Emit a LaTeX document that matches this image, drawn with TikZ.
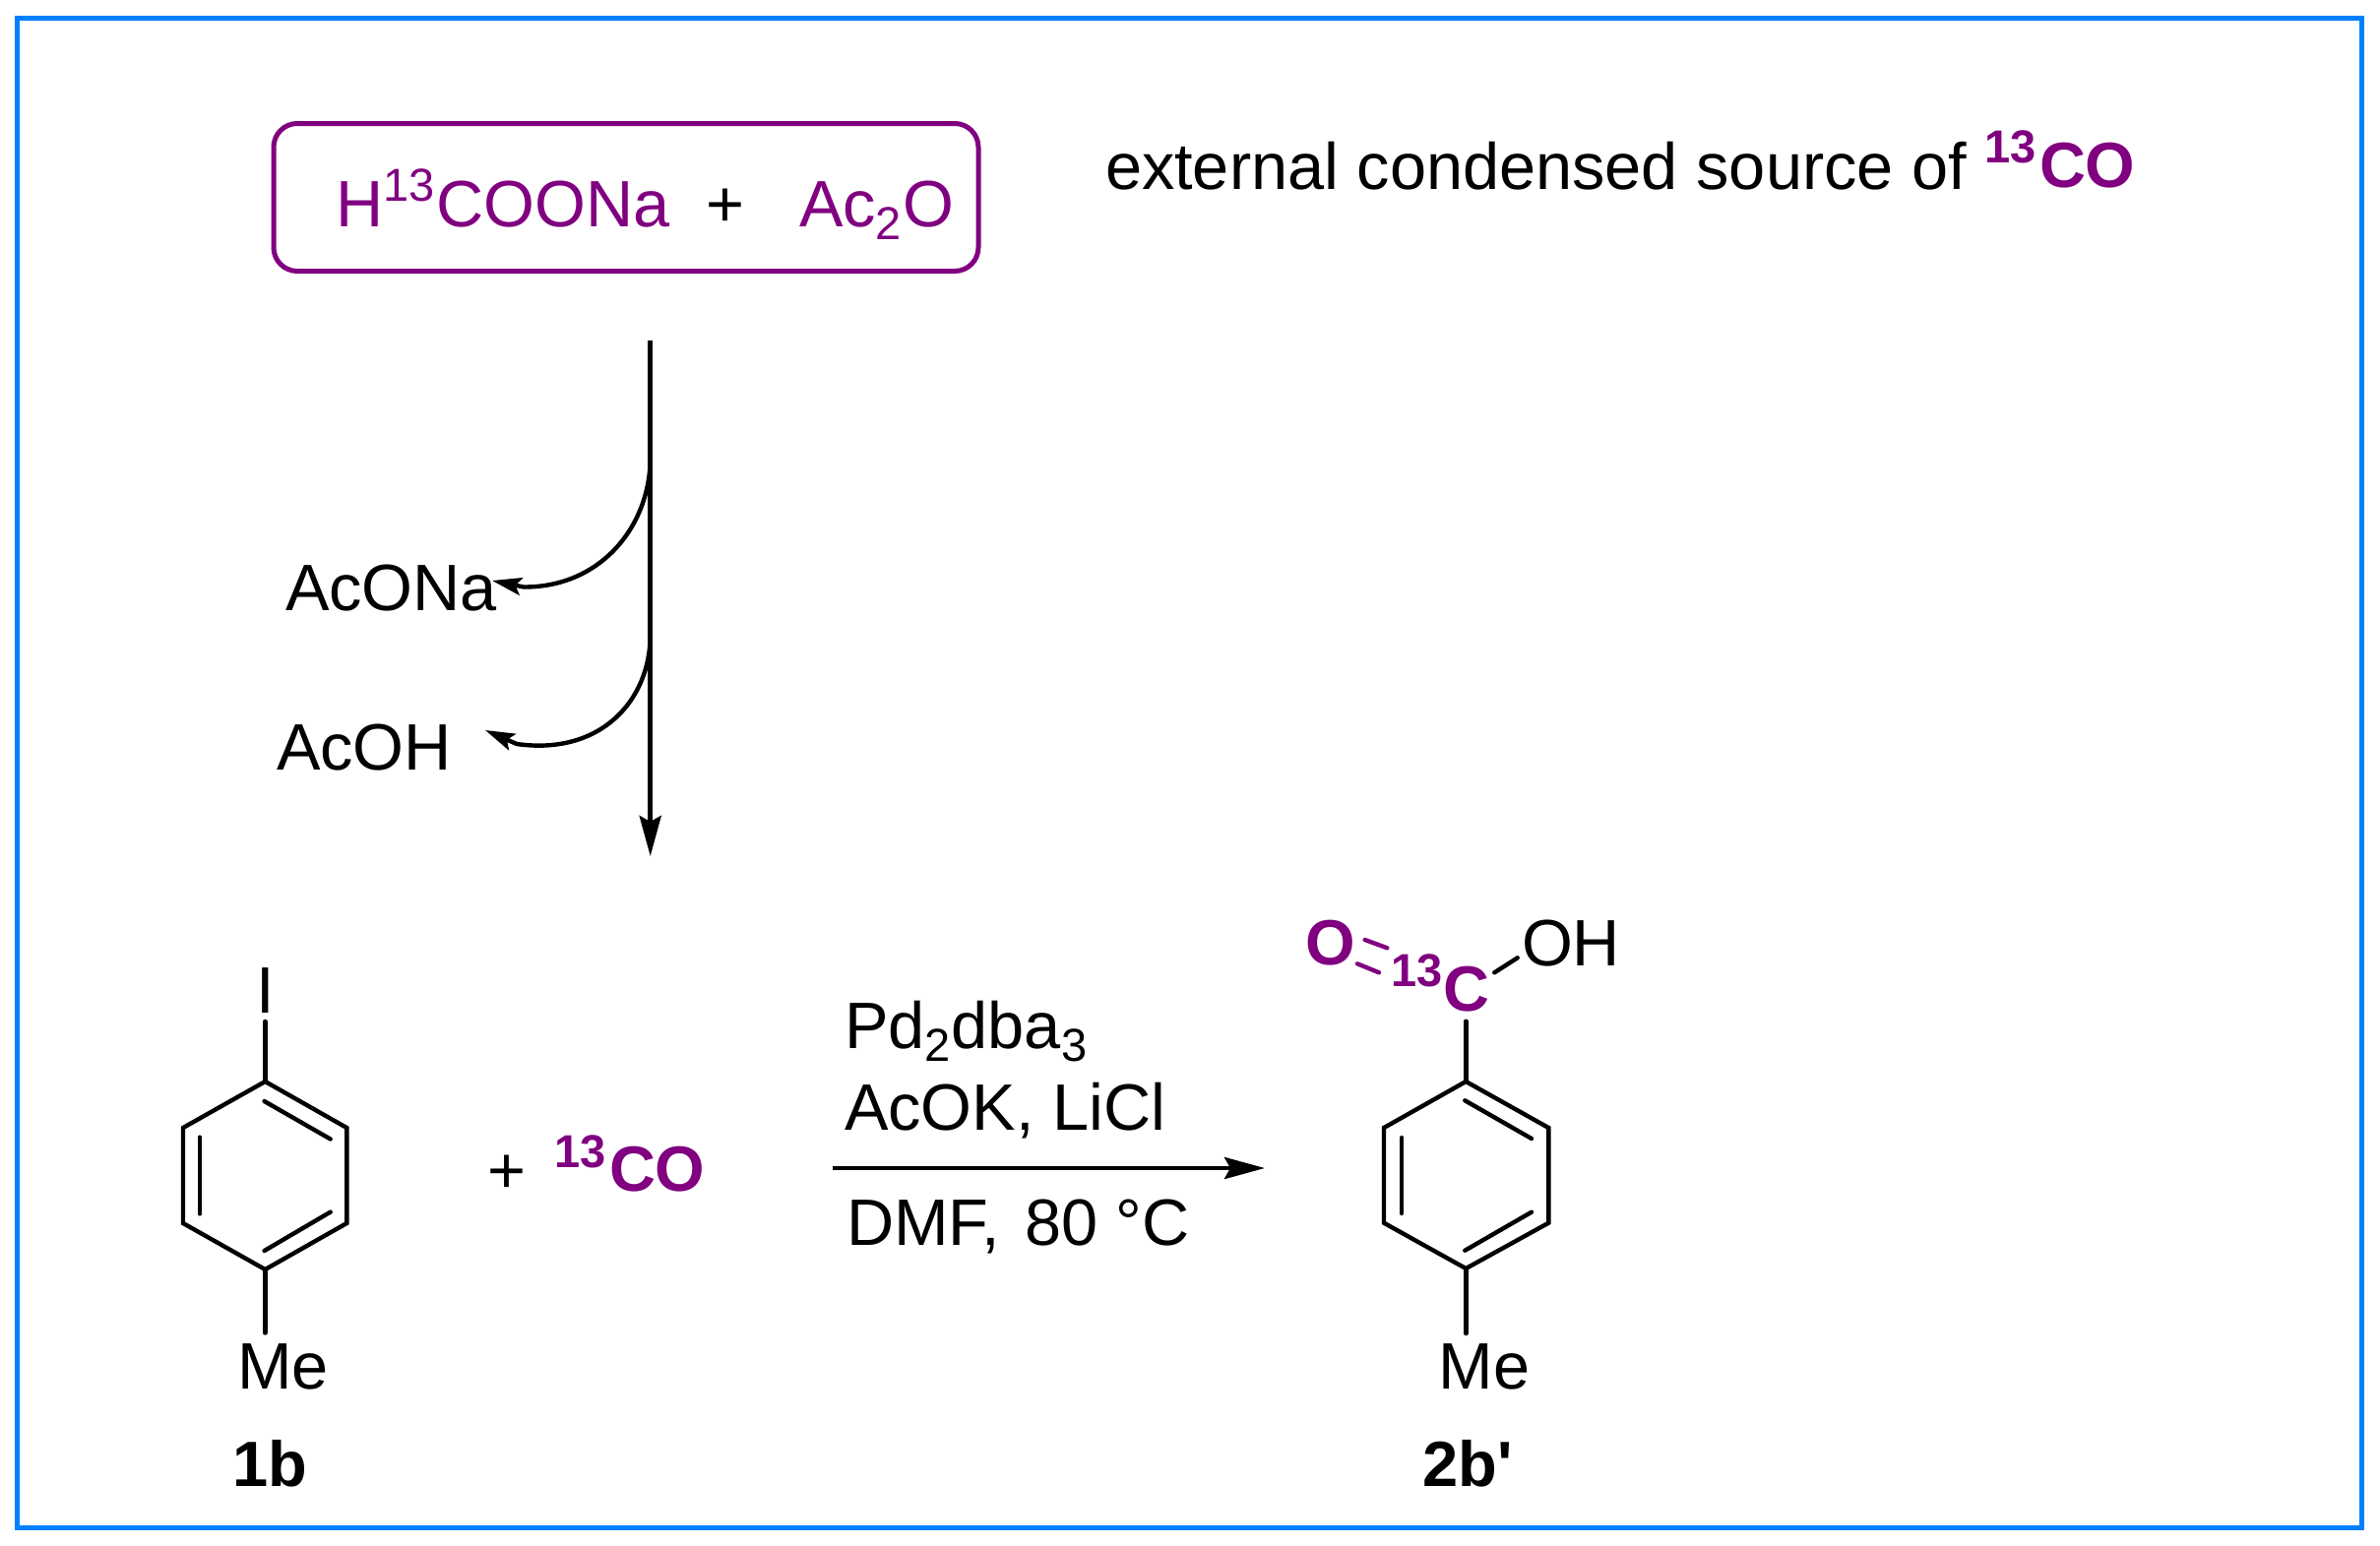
\documentclass[tikz,border=0pt]{standalone}
\usepackage{fontspec}
\setmainfont{Liberation Sans}
\usetikzlibrary{arrows.meta}
\definecolor{pur}{HTML}{800080}
\definecolor{frameblue}{HTML}{0080FF}
\newcommand{\bigsz}{\fontsize{66.7}{66.7}\selectfont}
\newcommand{\boldsz}{\fontsize{65}{65}\selectfont}
\newcommand{\smlsz}{\fontsize{47}{47}\selectfont}
\newcommand{\supn}[1]{\raisebox{26pt}{\smlsz #1}}
\newcommand{\subn}[1]{\raisebox{-13pt}{\smlsz #1}}
\tikzset{
  txt/.style={inner sep=0pt,outer sep=0pt,anchor=base west,font=\bigsz},
  btxt/.style={txt,font=\boldsz\bfseries},
  ptxt/.style={txt,text=pur},
  pbtxt/.style={btxt,text=pur},
  smallb/.style={inner sep=0pt,outer sep=0pt,anchor=base west,font=\smlsz\bfseries,text=pur},
  bond/.style={line width=4.4pt,line cap=round,line join=miter},
  pbond/.style={bond,draw=pur},
  mainarrow/.style={line width=4.6pt,-{Stealth[length=41pt,width=22pt,inset=6pt]}},
  curvearrow/.style={line width=4.4pt,-{Stealth[length=30pt,width=18pt,inset=6pt]}},
  srcbox/.style={draw=pur,line width=5pt,rounded corners=24pt,minimum width=716pt,minimum height=150pt,inner sep=0pt,outer sep=0pt}
}
\begin{document}
\begin{tikzpicture}[x=1pt,y=-1pt]
\useasboundingbox (0,0) rectangle (2418,1571);
\draw[frameblue,line width=5pt] (17,18.5) rectangle (2399,1552);

% source box
\node[srcbox] (src) at (636,200.5) {};
\node[ptxt] (formate) at (341,230) {H\supn{13}\hspace{2pt}COONa};
\node[btxt,font=\bigsz] (plusa) at (717,230) {+};
\node[ptxt] (anhyd) at (812,230) {Ac\subn{2}\hspace{2pt}O};
\node[txt] (ext) at (1123,192.5) {external condensed source of};
\node[smallb] (exta) at (2016,165) {13};
\node[pbtxt] (extb) at (2072,190) {CO};

% vertical arrow
\coordinate (vtop) at (660.7,346);
\coordinate (vtip) at (660.7,870);
\draw[mainarrow] (vtop) -- (vtip);
\node[txt] (acona) at (290,620) {AcONa};
\node[txt] (acoh) at (281,782.7) {AcOH};
\coordinate (c1s) at (660.7,465);
\coordinate (c1m) at (532,596.5);
\coordinate (c1t) at (500,590);
\coordinate (c2s) at (660.7,645);
\coordinate (c2m) at (525,756);
\coordinate (c2t) at (493,742);
\draw[curvearrow] (c1s) .. controls (660.7,535) and (610,597) .. (c1m) -- (c1t);
\draw[curvearrow] (c2s) .. controls (660.7,712) and (610,768) .. (c2m) -- (c2t);

% 1b
\coordinate (a1) at (269.4,1099);
\coordinate (a2) at (352.3,1146);
\coordinate (a3) at (352.3,1243);
\coordinate (a4) at (269.4,1290);
\coordinate (a5) at (186,1243);
\coordinate (a6) at (186,1146);
\draw[bond] (a1) -- (a2) -- (a3) -- (a4) -- (a5) -- (a6) -- cycle;
\coordinate (a7) at (268.5,1119);
\coordinate (a8) at (335.7,1157.5);
\coordinate (a9) at (335.7,1231.6);
\coordinate (a10) at (268.5,1271);
\coordinate (a11) at (203,1233.5);
\coordinate (a12) at (203,1155.6);
\draw[bond] (a7) -- (a8);
\draw[bond] (a9) -- (a10);
\draw[bond] (a11) -- (a12);
\coordinate (aI) at (269.4,1038);
\coordinate (aMe) at (269.4,1354.5);
\draw[bond] (a1) -- (aI);
\draw[bond] (a4) -- (aMe);
\node[txt,anchor=base] (iodo) at (269.5,1029) {I};
\node[txt] (mea) at (241,1411) {Me};
\node[btxt] (lab1) at (236,1510) {1b};

% plus 13CO
\node[txt,anchor=base] (plusb) at (514.5,1212) {+};
\node[smallb] (coa) at (563,1186) {13};
\node[pbtxt] (cob) at (619,1210) {CO};

% reaction arrow
\node[txt] (pd) at (858,1065) {Pd\subn{2}\hspace{1pt}dba\subn{3}};
\node[txt] (acok) at (858,1148) {AcOK, LiCl};
\coordinate (rs) at (846,1187);
\coordinate (rt) at (1285,1187);
\draw[mainarrow] (rs) -- (rt);
\node[txt] (dmf) at (860,1265) {DMF,\hspace{7pt} 80 °C};

% 2b'
\coordinate (b1) at (1489.3,1099);
\coordinate (b2) at (1573.3,1146);
\coordinate (b3) at (1573.3,1242.7);
\coordinate (b4) at (1489.3,1289);
\coordinate (b5) at (1406,1242.7);
\coordinate (b6) at (1406,1146);
\draw[bond] (b1) -- (b2) -- (b3) -- (b4) -- (b5) -- (b6) -- cycle;
\coordinate (b7) at (1488.3,1118.3);
\coordinate (b8) at (1556,1157);
\coordinate (b9) at (1556,1231.7);
\coordinate (b10) at (1488.3,1270.7);
\coordinate (b11) at (1424,1233);
\coordinate (b12) at (1424,1156);
\draw[bond] (b7) -- (b8);
\draw[bond] (b9) -- (b10);
\draw[bond] (b11) -- (b12);
\coordinate (bC) at (1489.3,1037.7);
\coordinate (bMe) at (1489.3,1355);
\draw[bond] (b1) -- (bC);
\draw[bond] (b4) -- (bMe);
\coordinate (bOa) at (1518.3,988.3);
\coordinate (bOb) at (1541.7,973.3);
\draw[bond] (bOa) -- (bOb);
\coordinate (d1) at (1386.7,955);
\coordinate (d2) at (1409.3,963.3);
\coordinate (d3) at (1379,979.3);
\coordinate (d4) at (1401,988.3);
\draw[pbond] (d1) -- (d2);
\draw[pbond] (d3) -- (d4);
\node[pbtxt] (oxy) at (1326,980) {O};
\node[smallb] (thir) at (1413,1002.7) {13};
\node[pbtxt] (carb) at (1466,1027) {C};
\node[txt] (oh) at (1546,981.7) {OH};
\node[txt] (meb) at (1461.5,1411) {Me};
\node[btxt] (lab2) at (1445,1510) {2b\hspace{1pt}\textquotesingle};
\end{tikzpicture}
\end{document}
